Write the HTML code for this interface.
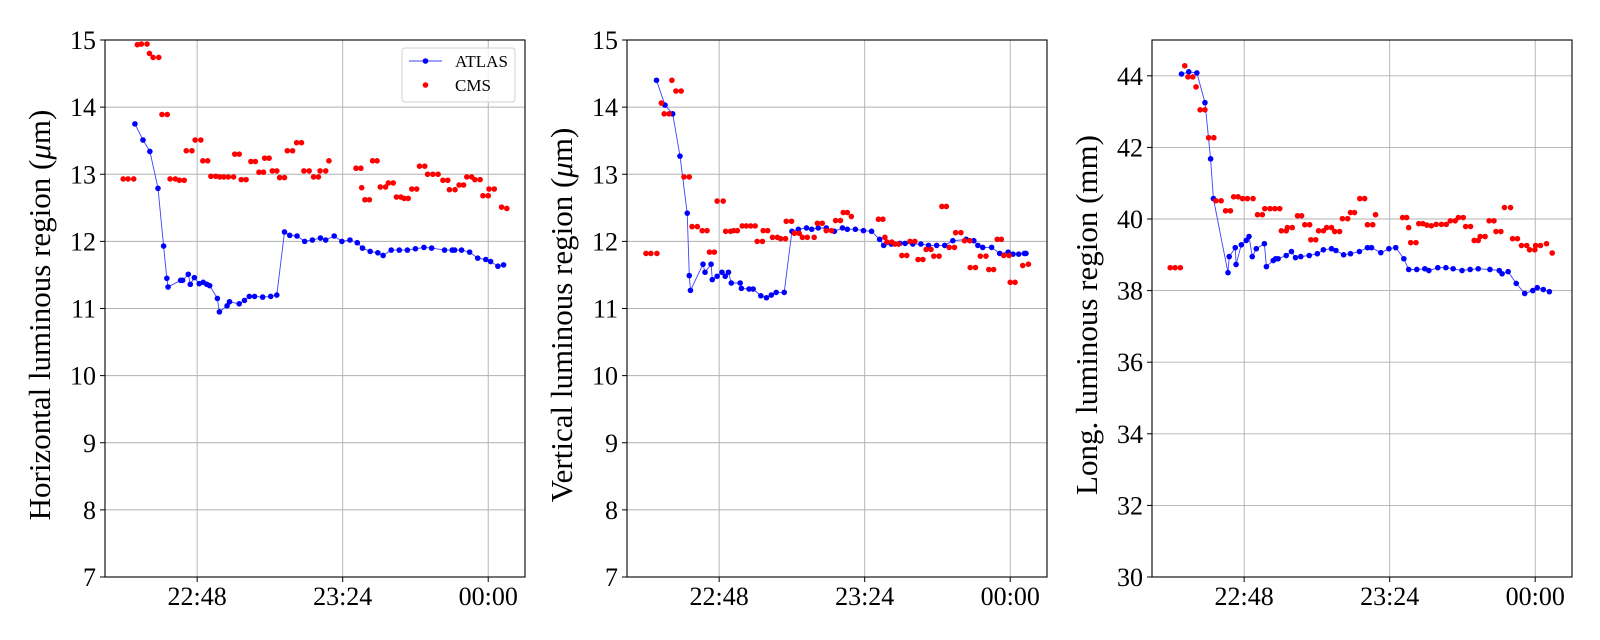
<!DOCTYPE html>
<html><head><meta charset="utf-8"><style>
html,body{margin:0;padding:0;background:#fff;}
svg{display:block;font-family:"Liberation Serif","DejaVu Serif",serif;}
</style></head><body>
<svg id="fig" width="1600" height="640" viewBox="0 0 1600 640"></svg>
<script>
// x values are minutes relative to 22:48
const xTickMinutes = [0, 36, 72];
const xTickLabels = ["22:48", "23:24", "00:00"];

const p1AtlasT = [-15.4,-13.4,-11.7,-9.7,-8.3,-7.5,-7.2,-4.1,-3.6,-2.2,-1.7,-0.7,0.5,1.5,2.4,3.1,5.0,5.5,7.4,8.0,10.4,11.7,12.9,14.2,16.2,18.2,19.7,21.6,22.9,24.7,26.6,28.5,30.5,31.8,33.9,35.8,37.8,39.6,40.9,42.8,44.7,46.0,48.0,50.0,52.0,54.0,56.1,58.0,61.2,63.1,63.7,65.4,67.4,69.4,71.4,72.6,74.4,75.8];
const p1AtlasV = [13.75,13.51,13.34,12.79,11.93,11.45,11.32,11.42,11.42,11.51,11.36,11.46,11.37,11.39,11.36,11.34,11.15,10.95,11.04,11.10,11.07,11.12,11.18,11.18,11.17,11.18,11.20,12.14,12.09,12.08,12.00,12.02,12.05,12.02,12.08,12.00,12.02,11.98,11.90,11.85,11.83,11.79,11.87,11.87,11.87,11.89,11.91,11.90,11.87,11.87,11.87,11.87,11.84,11.75,11.73,11.70,11.63,11.65];
const p1CmsT = [-18.3,-17.1,-15.7,-14.8,-13.8,-12.4,-11.8,-10.9,-9.5,-8.7,-7.4,-6.7,-5.4,-4.4,-3.2,-2.7,-1.3,-0.5,0.9,1.4,2.6,3.4,4.6,5.6,6.6,7.7,9.0,9.3,10.4,10.9,12.1,13.3,14.4,15.3,16.4,16.7,17.8,18.6,19.7,20.4,21.6,22.3,23.6,24.6,25.8,26.4,27.7,28.8,30.0,30.4,31.8,32.6,39.3,40.5,40.7,41.5,42.6,43.4,44.5,45.3,46.6,47.3,48.5,49.3,50.4,51.2,52.2,53.1,54.3,55.0,56.3,57.0,58.3,59.6,60.8,62.0,62.4,63.8,64.8,65.9,66.7,67.9,68.7,70.0,70.7,72.0,72.2,73.5,75.3,76.6];
const p1CmsV = [12.93,12.93,12.93,14.93,14.94,14.94,14.80,14.74,14.74,13.89,13.89,12.93,12.93,12.91,12.91,13.35,13.35,13.51,13.51,13.20,13.20,12.97,12.97,12.96,12.96,12.96,12.96,13.30,13.30,12.92,12.92,13.19,13.19,13.03,13.03,13.24,13.24,13.05,13.05,12.95,12.95,13.35,13.35,13.47,13.47,13.05,13.05,12.96,12.96,13.05,13.05,13.20,13.09,13.09,12.80,12.62,12.62,13.20,13.20,12.81,12.81,12.87,12.87,12.66,12.66,12.64,12.64,12.78,12.78,13.12,13.12,13.00,13.00,13.00,12.91,12.91,12.77,12.77,12.84,12.84,12.96,12.96,12.92,12.92,12.68,12.68,12.78,12.78,12.51,12.49];

const p2AtlasT = [-15.5,-13.4,-11.5,-9.7,-7.9,-7.4,-7.1,-4.0,-3.5,-2.0,-1.7,-0.5,0.7,1.5,2.3,3.0,5.2,5.5,7.4,8.4,10.3,11.7,12.9,14.1,16.1,18.0,19.6,21.6,22.9,24.5,26.5,28.5,30.5,31.7,33.7,35.7,37.7,39.7,40.7,42.6,44.7,46.0,47.9,49.9,51.8,53.8,55.8,57.8,61.1,63.0,64.0,65.2,67.4,69.4,71.5,72.7,74.1,75.5,75.9];
const p2AtlasV = [14.40,14.03,13.90,13.27,12.42,11.49,11.27,11.66,11.54,11.66,11.43,11.48,11.54,11.48,11.54,11.38,11.38,11.30,11.29,11.29,11.19,11.16,11.20,11.24,11.24,12.15,12.18,12.20,12.18,12.20,12.20,12.15,12.20,12.18,12.18,12.16,12.15,12.03,11.94,11.96,11.97,11.97,11.96,11.96,11.94,11.94,11.94,12.01,12.03,12.01,11.94,11.91,11.91,11.82,11.84,11.81,11.81,11.82,11.82];
const p2CmsT = [-18.1,-16.9,-15.4,-14.3,-13.6,-12.4,-11.7,-10.7,-9.4,-8.7,-7.4,-6.7,-5.4,-4.2,-3.0,-2.4,-1.2,-0.5,1.0,1.6,2.8,3.6,4.5,5.7,6.7,7.8,8.9,9.4,10.7,10.9,12.0,13.2,14.4,15.2,16.4,16.6,17.9,18.6,19.8,20.6,21.8,23.5,24.3,25.5,26.5,27.8,28.8,30.0,30.7,31.7,32.7,39.4,40.5,41.0,41.5,42.7,43.5,44.4,45.2,46.4,47.2,48.4,49.2,50.4,51.2,52.4,53.1,54.4,55.1,56.2,56.9,58.2,58.5,59.8,60.7,62.0,62.1,63.4,64.6,66.0,66.7,67.9,68.8,69.8,70.4,71.7,72.0,73.2,75.1,76.5];
const p2CmsV = [11.82,11.82,11.82,14.06,13.90,13.90,14.40,14.24,14.24,12.96,12.96,12.22,12.22,12.16,12.16,11.84,11.84,12.60,12.60,12.15,12.15,12.16,12.16,12.23,12.23,12.23,12.23,12.00,12.00,12.16,12.16,12.06,12.06,12.04,12.04,12.30,12.30,12.12,12.12,12.06,12.06,12.06,12.27,12.27,12.16,12.16,12.31,12.31,12.43,12.43,12.37,12.33,12.33,12.06,11.99,11.99,11.96,11.96,11.79,11.79,12.00,12.00,11.73,11.73,11.88,11.88,11.78,11.78,12.52,12.52,11.91,11.91,12.13,12.13,12.01,12.01,11.61,11.61,11.78,11.78,11.58,11.58,12.03,12.03,11.79,11.79,11.39,11.39,11.64,11.66];

const p3AtlasT = [-15.5,-13.7,-11.7,-9.7,-8.3,-7.6,-4.0,-3.7,-2.2,-2.0,-0.7,0.5,1.2,2.0,3.0,5.0,5.5,7.2,7.8,8.4,10.4,11.7,12.7,14.0,16.1,18.1,19.6,21.6,22.7,24.6,26.3,28.5,30.5,31.5,33.8,35.8,37.5,39.5,40.7,42.7,44.7,45.7,47.9,49.9,51.7,53.9,55.9,57.9,60.8,63.1,63.8,65.3,67.3,69.4,71.4,72.5,74.0,75.5];
const p3AtlasV = [44.05,44.11,44.08,43.25,41.68,40.57,38.50,38.95,39.20,38.73,39.28,39.40,39.51,38.95,39.17,39.31,38.67,38.84,38.89,38.89,38.98,39.09,38.92,38.95,38.98,39.03,39.14,39.17,39.12,39.00,39.03,39.09,39.20,39.20,39.06,39.17,39.20,38.89,38.59,38.59,38.61,38.56,38.64,38.64,38.61,38.56,38.59,38.61,38.59,38.56,38.47,38.53,38.20,37.92,38.00,38.08,38.03,37.97];
const p3CmsT = [-18.3,-17.1,-15.8,-14.7,-13.9,-12.7,-11.9,-10.9,-9.7,-8.8,-7.5,-7.0,-5.7,-4.6,-3.4,-2.6,-1.5,-0.4,0.8,2.2,3.3,4.5,5.1,6.4,7.6,8.8,9.2,10.4,10.7,11.9,13.2,14.2,15.0,16.2,16.5,17.7,18.4,19.6,20.4,21.6,22.4,23.6,24.3,25.6,26.3,27.3,28.6,29.8,30.5,31.8,32.5,39.2,40.2,40.7,41.2,42.5,43.2,44.2,45.2,46.3,47.5,48.8,50.0,51.0,52.2,53.0,54.2,54.8,56.0,56.9,57.9,58.4,59.6,60.6,61.8,62.3,63.5,64.4,65.9,66.4,67.6,68.6,69.9,70.6,71.9,72.1,73.3,74.8,76.2];
const p3CmsV = [38.64,38.64,38.64,44.28,43.97,43.97,43.69,43.05,43.05,42.27,42.27,40.51,40.51,40.23,40.23,40.62,40.62,40.57,40.57,40.57,40.12,40.12,40.29,40.29,40.29,40.29,39.67,39.67,39.76,39.76,40.09,40.09,39.84,39.84,39.42,39.42,39.67,39.67,39.76,39.76,39.65,39.65,40.01,40.01,40.18,40.18,40.57,40.57,39.84,39.84,40.12,40.04,40.04,39.76,39.34,39.34,39.87,39.87,39.83,39.81,39.85,39.85,39.85,39.95,39.95,40.04,40.04,39.79,39.79,39.40,39.40,39.51,39.51,39.95,39.95,39.65,39.65,40.32,40.32,39.45,39.45,39.26,39.26,39.14,39.14,39.26,39.26,39.31,39.05];

const p1YTicks = [7,8,9,10,11,12,13,14,15];
const p3YTicks = [30,32,34,36,38,40,42,44];

const NS = "http://www.w3.org/2000/svg";
const svg = document.getElementById("fig");
function mk(tag, attrs, parent) {
  const e = document.createElementNS(NS, tag);
  for (const k in attrs) e.setAttribute(k, attrs[k]);
  (parent || svg).appendChild(e);
  return e;
}
const XMIN = -22.8, XMAX = 81.1, TOP = 40, BOT = 577;

function panel(cfg) {
  const g = mk("g", {});
  
  
  const L = cfg.left, R = cfg.left + 420;
  const xs = t => L + (t - XMIN) / (XMAX - XMIN) * (R - L);
  const ys = v => BOT - (v - cfg.ymin) / (cfg.ymax - cfg.ymin) * (BOT - TOP);
  xTickMinutes.forEach((t, i) => {
    const ln = mk("line", {x1: xs(t), x2: xs(t), y1: TOP, y2: BOT, stroke: "#b0b0b0", "stroke-width": 0.9}, g);
    
    
    const tk = mk("line", {x1: xs(t), x2: xs(t), y1: BOT, y2: BOT + 5, stroke: "#000", "stroke-width": 1}, g);
    
    
    const tx = mk("text", {x: xs(t), y: BOT + 28, "text-anchor": "middle", "font-size": 26, fill: "#000"}, g);
    tx.textContent = xTickLabels[i];
    
    
  });
  cfg.yticks.forEach(v => {
    if (v !== cfg.ymin && v !== cfg.ymax) {
      const ln = mk("line", {x1: L, x2: R, y1: ys(v), y2: ys(v), stroke: "#b0b0b0", "stroke-width": 0.9}, g);
      
      
    }
    const tk = mk("line", {x1: L - 5, x2: L, y1: ys(v), y2: ys(v), stroke: "#000", "stroke-width": 1}, g);
    
    
    const tx = mk("text", {x: L - 9, y: ys(v) + 9, "text-anchor": "end", "font-size": 26, fill: "#000"}, g);
    tx.textContent = String(v);
    
    
  });
  const pts = cfg.at.map((t, i) => xs(t).toFixed(1) + "," + ys(cfg.av[i]).toFixed(1)).join(" ");
  const pl = mk("polyline", {points: pts, fill: "none", stroke: "#4040ff", "stroke-width": 0.9}, g);
  
  
  cfg.at.forEach((t, i) => {
    const c = mk("circle", {cx: xs(t), cy: ys(cfg.av[i]), r: 2.8, fill: "#0000ff"}, g);
    
    
  });
  cfg.ct.forEach((t, i) => {
    const c = mk("circle", {cx: xs(t), cy: ys(cfg.cv[i]), r: 2.8, fill: "#ff0000"}, g);
    
    
  });
  const fr = mk("rect", {x: L, y: TOP, width: R - L, height: BOT - TOP, fill: "none", stroke: "#000", "stroke-width": 1.1}, g);
  
  
  const yl = mk("text", {x: 0, y: 0, "text-anchor": "middle", "font-size": 31, fill: "#000",
    transform: "translate(" + cfg.labelX + ",315) rotate(-90)"}, g);
  
  
  if (cfg.mu) {
    yl.appendChild(document.createTextNode(cfg.label + " ("));
    const ts = mk("tspan", {"font-style": "italic"}, yl);
    ts.textContent = "\u03bc";
    yl.appendChild(document.createTextNode("m)"));
  } else {
    yl.textContent = cfg.label;
  }
  return {g, L, R};
}

panel({name: "horizontal-panel", left: 105, ymin: 7, ymax: 15, yticks: p1YTicks,
  at: p1AtlasT, av: p1AtlasV, ct: p1CmsT, cv: p1CmsV, labelX: 50, label: "Horizontal luminous region", mu: true});
panel({name: "vertical-panel", left: 627, ymin: 7, ymax: 15, yticks: p1YTicks,
  at: p2AtlasT, av: p2AtlasV, ct: p2CmsT, cv: p2CmsV, labelX: 572, label: "Vertical luminous region", mu: true});
panel({name: "longitudinal-panel", left: 1152, ymin: 30, ymax: 45, yticks: p3YTicks,
  at: p3AtlasT, av: p3AtlasV, ct: p3CmsT, cv: p3CmsV, labelX: 1097, label: "Long. luminous region (mm)", mu: false});

const lg = mk("g", {});


const box = mk("rect", {x: 402, y: 48, width: 113, height: 54, rx: 3, fill: "#fff", "fill-opacity": 0.8, stroke: "#d0d0d0", "stroke-width": 1}, lg);


const e1 = mk("line", {x1: 409, x2: 442, y1: 61, y2: 61, stroke: "#4040ff", "stroke-width": 0.9}, lg);


const e1d = mk("circle", {cx: 425.5, cy: 61, r: 2.8, fill: "#0000ff"}, lg);


const t1 = mk("text", {x: 455, y: 67, "font-size": 17, fill: "#000"}, lg);
t1.textContent = "ATLAS";


const e2d = mk("circle", {cx: 425.5, cy: 85, r: 2.8, fill: "#ff0000"}, lg);


const t2 = mk("text", {x: 455, y: 91, "font-size": 17, fill: "#000"}, lg);
t2.textContent = "CMS";


</script>
</body></html>
